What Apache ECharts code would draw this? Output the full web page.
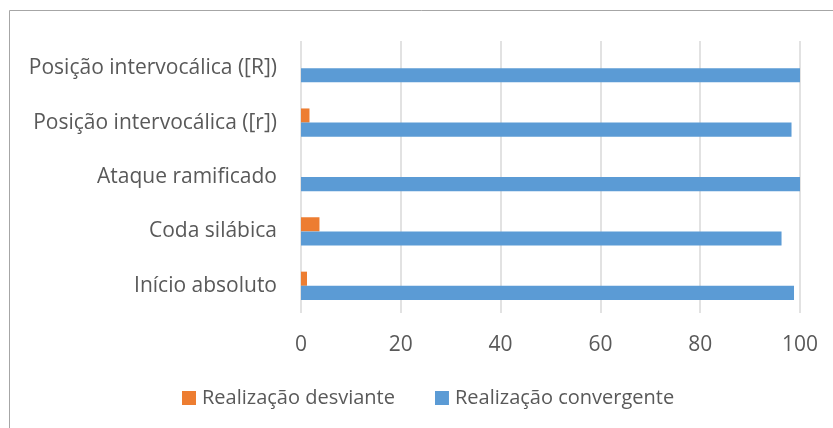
<!DOCTYPE html>
<html>
<head>
<meta charset="utf-8">
<script src="https://cdn.jsdelivr.net/npm/echarts@6/dist/echarts.min.js"></script>
<style>
  html, body { margin: 0; padding: 0; background: #fff; }
  #chart { width: 833px; height: 428px; }
</style>
</head>
<body>
<div id="chart"></div>
<script>
// categorias de baixo para cima (eixo de categorias do ECharts)
const categories = ['Início absoluto', 'Coda silábica', 'Ataque ramificado', 'Posição intervocálica ([r])', 'Posição intervocálica ([R])'];
const desviante = [1.2, 3.7, 0, 1.7, 0];
const convergente = [98.8, 96.3, 100, 98.3, 100];
const xTicks = [0, 20, 40, 60, 80, 100];

const chart = echarts.init(document.getElementById('chart'));
const font = "'Open Sans', 'Noto Sans', sans-serif";

chart.setOption({
  animation: false,
  graphic: [{
    type: 'rect',
    shape: { x: 9.5, y: 10.5, width: 900, height: 500 },
    style: { fill: 'none', stroke: '#a6a6a6', lineWidth: 1 }
  }],
  grid: { left: 301, right: 33, top: 41, bottom: 115 },
  legend: {
    data: ['Realização desviante', 'Realização convergente'],
    top: 383,
    left: 177,
    icon: 'rect',
    itemWidth: 14,
    itemHeight: 14,
    itemGap: 40,
    textStyle: { fontFamily: font, fontSize: 20, color: '#595959', padding: [0, 0, 0, 1] }
  },
  xAxis: {
    type: 'value',
    min: xTicks[0],
    max: xTicks[xTicks.length - 1],
    interval: 20,
    axisLine: { show: false },
    axisTick: { show: false },
    axisLabel: { fontFamily: font, fontSize: 21, color: '#595959', margin: 22 },
    splitLine: { lineStyle: { color: '#d9d9d9', width: 1.5 } }
  },
  yAxis: {
    type: 'category',
    data: categories,
    axisLine: { show: false },
    axisTick: { show: false },
    axisLabel: { fontFamily: font, fontSize: 21, color: '#595959', margin: 24, padding: [5, 0, 0, 0] }
  },
  series: [
    {
      name: 'Realização desviante',
      type: 'bar',
      data: desviante,
      barGap: '0%',
      barCategoryGap: '48%',
      itemStyle: { color: '#ed7d31' }
    },
    {
      name: 'Realização convergente',
      type: 'bar',
      data: convergente,
      itemStyle: { color: '#5b9bd5' }
    }
  ]
});
</script>
</body>
</html>
